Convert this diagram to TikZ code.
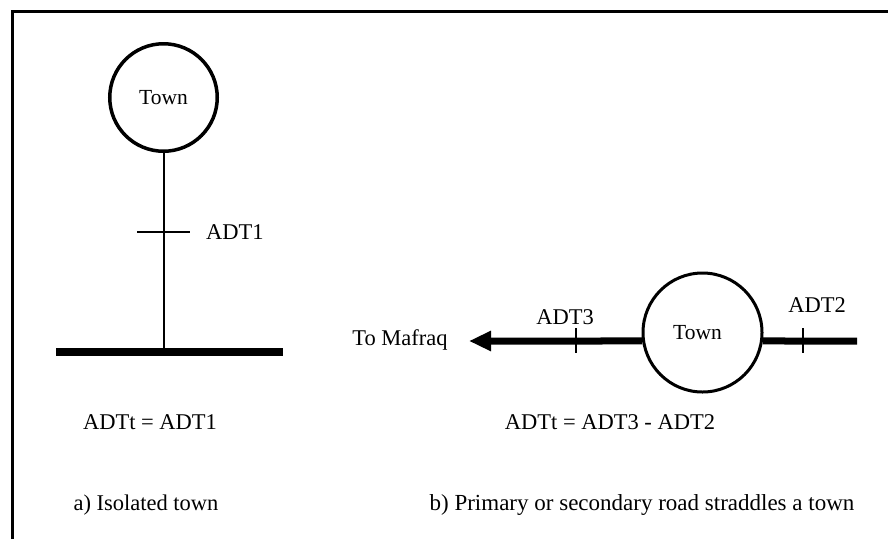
\documentclass[tikz,border=0pt]{standalone}
\usepackage{fontspec}
\setmainfont{Liberation Serif}
\usetikzlibrary{arrows.meta}
\begin{document}
\begin{tikzpicture}[x=1pt,y=-1pt,
  lbl/.style={inner sep=0pt,font=\fontsize{22.5}{26}\selectfont},
  townlbl/.style={circle,draw,font=\fontsize{21.5}{25}\selectfont},
  thinroad/.style={line width=2pt},
  mainroad/.style={line width=7pt},
  tickmark/.style={line width=2pt}]
  \useasboundingbox (0,0) rectangle (888,539);
  % frame (top and left edges)
  \draw[line width=3pt,miter limit=10] (12,539) -- (12,11) -- (888,11);

  % ---- a) isolated town ----
  \node[townlbl,line width=3.5pt,minimum size=107.5pt] (town1) at (163.5,97.5) {Town};
  \coordinate (barL) at (56,352);
  \coordinate (barR) at (283,352);
  \coordinate (barJ) at (163.5,352);
  \draw[line width=8pt] (barL) -- (barR);
  \draw[thinroad] (town1.south) -- (barJ);
  \coordinate (t1L) at (137,232);
  \coordinate (t1R) at (190,232);
  \draw[tickmark] (t1L) -- (t1R);
  \node[lbl,anchor=west] (adt1) at (206,232) {ADT1};
  \node[lbl] (eqa) at (150,422) {ADTt = ADT1};
  \node[lbl] (capa) at (146,505) {a) Isolated town};

  % ---- b) road straddling a town ----
  \node[townlbl,line width=3pt,minimum size=119pt,text depth=0pt] (town2) at (702.5,332.5) {\hspace*{-10pt}Town};
  \coordinate (tip) at (469,341);
  \coordinate (east) at (857,341);
  \draw[mainroad,-{Triangle[length=22pt,width=19pt]}] (town2.188) -- (tip);
  \draw[mainroad] (town2.-8) -- (east);
  \coordinate (t3a) at (576,328);
  \coordinate (t3b) at (576,353);
  \coordinate (t2a) at (803,328);
  \coordinate (t2b) at (803,353);
  \draw[tickmark] (t3a) -- (t3b);
  \draw[tickmark] (t2a) -- (t2b);
  \node[lbl] (adt3) at (565,317) {ADT3};
  \node[lbl] (adt2) at (817,305) {ADT2};
  \node[lbl] (dest) at (400,340) {To Mafraq};
  \node[lbl] (eqb) at (610,422) {ADTt = ADT3 - ADT2};
  \node[lbl,font=\fontsize{23}{27}\selectfont] (capb) at (642,505) {b) Primary or secondary road straddles a town};
\end{tikzpicture}
\end{document}
